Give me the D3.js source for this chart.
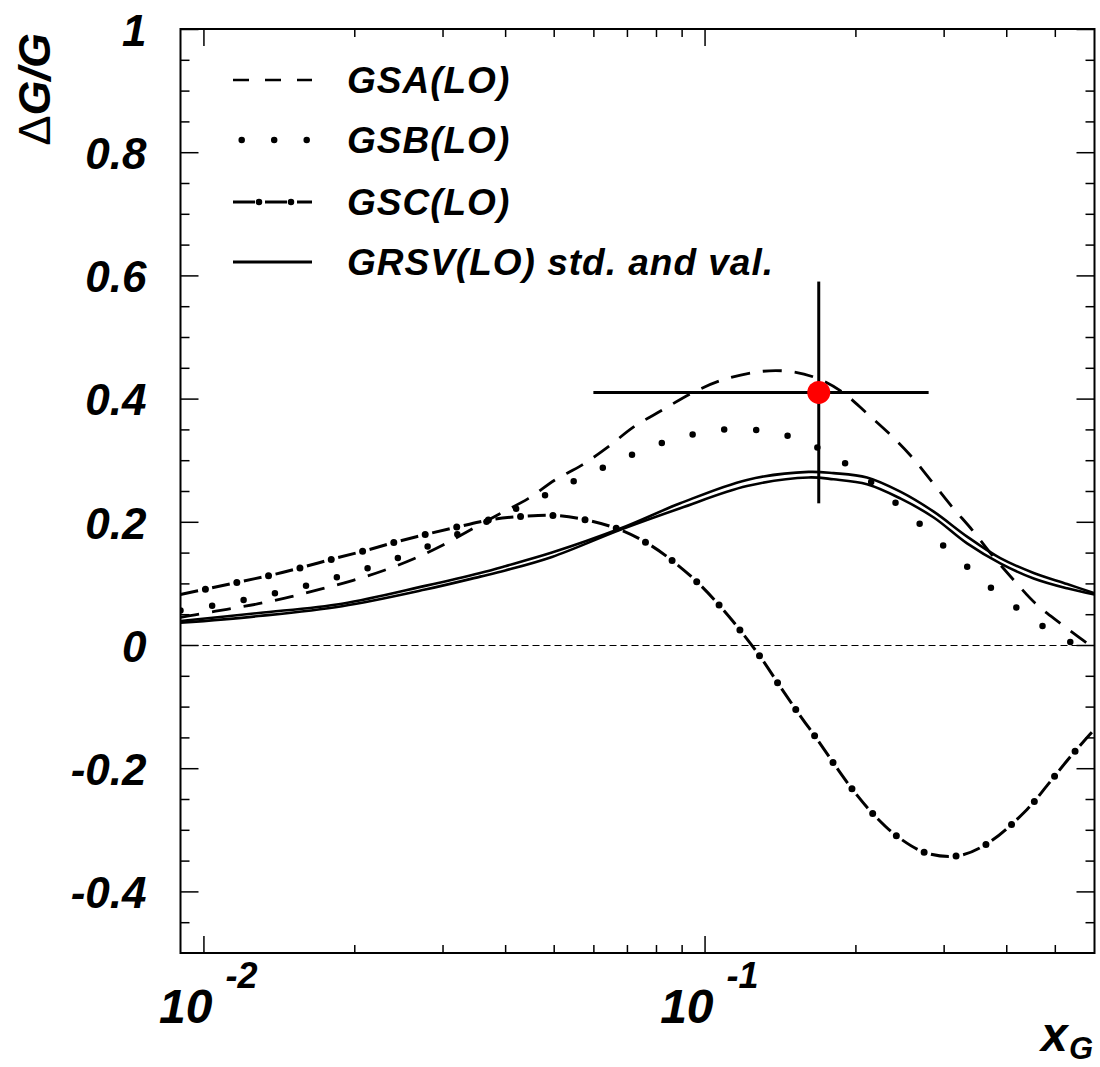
<!DOCTYPE html>
<html><head><meta charset="utf-8">
<script src="https://cdn.jsdelivr.net/npm/d3@7"></script>
<style>
body{margin:0;background:#fff;}
svg{display:block;}
text{font-family:"Liberation Sans",Arial,Helvetica,sans-serif;font-weight:bold;font-style:italic;fill:#000;}
</style></head><body>
<svg id="chart" width="1100" height="1067"></svg>
<script>
// ---------------- data ----------------
const seriesNames = ["GSA(LO)", "GSB(LO)", "GSC(LO)", "GRSV(LO) std. and val."];

const gsaX = [0.009,0.00962,0.01114,0.01288,0.01489,0.0172,0.0199,0.0229,0.0263,0.0300,0.0345,0.0388,0.04454,0.0503,0.0569,0.0643,0.0722,0.0822,0.0944,0.1083,0.1292,0.1483,0.1677,0.1881,0.2109,0.2330,0.2574,0.2844,0.3117,0.3418,0.3774,0.4139,0.4571,0.5129,0.5799,0.6];
const gsaY = [0.045,0.049,0.058,0.067,0.078,0.091,0.105,0.121,0.140,0.162,0.189,0.212,0.238,0.268,0.292,0.322,0.354,0.381,0.409,0.430,0.444,0.444,0.433,0.411,0.376,0.344,0.308,0.265,0.2245,0.187,0.143,0.1055,0.0677,0.0352,0.003,-0.005];

const gsbX = [0.009,0.00962,0.01114,0.01288,0.01489,0.01718,0.01984,0.02288,0.02634,0.03037,0.03513,0.04557,0.05193,0.05941,0.0682,0.07831,0.08997,0.1041,0.121,0.1398,0.1613,0.1838,0.2093,0.2348,0.2627,0.2932,0.3273,0.365,0.4192,0.4728,0.5386,0.6];
const gsbY = [0.056,0.0596,0.0677,0.0784,0.0893,0.1028,0.1174,0.1326,0.1515,0.1716,0.1932,0.234,0.257,0.279,0.301,0.322,0.337,0.348,0.350,0.344,0.327,0.303,0.272,0.238,0.204,0.168,0.134,0.099,0.0606,0.0308,0.0044,-0.015];

const gscX = [0.009,0.01028,0.01189,0.01375,0.01589,0.01838,0.0212,0.02443,0.02826,0.03268,0.03781,0.04386,0.05088,0.05888,0.06788,0.07766,0.08741,0.09772,0.1083,0.1191,0.1302,0.1416,0.154,0.1677,0.1824,0.1993,0.2185,0.2436,0.2779,0.3214,0.3672,0.4401,0.4837,0.5313,0.586,0.6];
const gscY = [0.082,0.092,0.103,0.114,0.127,0.141,0.154,0.168,0.181,0.193,0.204,0.209,0.210,0.202,0.187,0.163,0.133,0.0985,0.0596,0.019,-0.023,-0.0677,-0.111,-0.153,-0.196,-0.239,-0.277,-0.312,-0.338,-0.342,-0.322,-0.267,-0.227,-0.186,-0.146,-0.137];

const grsvX = [0.009,0.0129,0.0189,0.0277,0.03567,0.04002,0.0496,0.06788,0.08942,0.1215,0.1613,0.1809,0.2109,0.2458,0.2866,0.3341,0.3892,0.4537,0.529,0.6];
const grsvStdY = [0.039,0.052,0.067,0.096,0.117,0.128,0.150,0.189,0.230,0.268,0.281,0.279,0.272,0.249,0.2165,0.176,0.141,0.117,0.099,0.084];
const grsvValY = [0.036,0.047,0.063,0.090,0.111,0.121,0.143,0.187,0.222,0.258,0.272,0.269,0.261,0.238,0.207,0.165,0.1326,0.108,0.092,0.082];

// measured point with error bars
const pointX = [0.169];
const pointY = [0.41];
const pointXLo = [0.06];
const pointXHi = [0.28];
const pointYLo = [0.23];
const pointYHi = [0.59];

// axes
const yMajorTicks = [-0.4,-0.2,0,0.2,0.4,0.6,0.8,1];
const yTickLabels = ["-0.4","-0.2","0","0.2","0.4","0.6","0.8","1"];
const xMajorTicks = [0.01,0.1];
const xTickBase = ["10","10"];
const xTickExp = ["-2","-1"];
const xMinorTicks = [0.02,0.03,0.04,0.05,0.06,0.07,0.08,0.09,0.2,0.3,0.4,0.5];

// ---------------- layout ----------------
const L = 180.5, R = 1094.5, T = 29, B = 953;
const svg = d3.select("#chart");
const x = d3.scaleLog().domain([0.009, 0.6]).range([L, R]);
const y = d3.scaleLinear().domain([-0.5, 1]).range([B, T]);
const yMinorTicks = d3.range(-0.45, 1.0001, 0.05).map(v => +v.toFixed(2)).filter(v => !yMajorTicks.some(m => Math.abs(m - v) < 1e-6));

svg.append("defs").append("clipPath").attr("id", "clip")
  .append("rect").attr("x", L).attr("y", T).attr("width", R - L).attr("height", B - T);

function styleAxis(g){ g.select(".domain").remove(); g.selectAll("line").attr("stroke","#000").attr("stroke-width",1.5); }
svg.append("g").attr("transform",`translate(${L},0)`)
  .call(d3.axisLeft(y).tickValues(yMinorTicks).tickSize(-9).tickFormat("")).call(styleAxis);
svg.append("g").attr("transform",`translate(${R},0)`)
  .call(d3.axisRight(y).tickValues(yMinorTicks).tickSize(-9).tickFormat("")).call(styleAxis);
svg.append("g").attr("transform",`translate(${R},0)`)
  .call(d3.axisRight(y).tickValues(yMajorTicks).tickSize(-18).tickFormat("")).call(styleAxis);
const yAx = svg.append("g").attr("transform",`translate(${L},0)`)
  .call(d3.axisLeft(y).tickValues(yMajorTicks).tickSize(-18).tickPadding(34)
    .tickFormat((d,i) => yTickLabels[i])).call(styleAxis);
yAx.selectAll("text").attr("font-size", 44).attr("dy", "0.37em")
  .attr("font-family",'"Liberation Sans",Arial,sans-serif')
  .style("font-weight","bold").style("font-style","italic");

svg.append("g").attr("transform",`translate(0,${B})`)
  .call(d3.axisBottom(x).tickValues(xMinorTicks).tickSize(-8).tickFormat("")).call(styleAxis);
svg.append("g").attr("transform",`translate(0,${B})`)
  .call(d3.axisBottom(x).tickValues(xMajorTicks).tickSize(-17).tickFormat("")).call(styleAxis);
svg.append("g").attr("transform",`translate(0,${T})`)
  .call(d3.axisTop(x).tickValues(xMinorTicks).tickSize(-8).tickFormat("")).call(styleAxis);
svg.append("g").attr("transform",`translate(0,${T})`)
  .call(d3.axisTop(x).tickValues(xMajorTicks).tickSize(-17).tickFormat("")).call(styleAxis);

// x tick labels (10^n)
xMajorTicks.forEach((v,i) => {
  const px = x(v);
  svg.append("text").attr("x", px + 9).attr("y", 1023).attr("text-anchor","end")
    .attr("font-size", 48).text(xTickBase[i]);
  svg.append("text").attr("x", px + 22).attr("y", 988).attr("text-anchor","start")
    .attr("font-size", 36).text(xTickExp[i]);
});

// axis titles
svg.append("text").attr("x", 1041).attr("y", 1051).attr("font-size", 48).text("x");
svg.append("text").attr("x", 1069).attr("y", 1059).attr("font-size", 31).text("G");
const yt = svg.append("text").attr("transform","translate(50,33) rotate(-90)")
  .attr("text-anchor","end").attr("font-size", 45);
yt.append("tspan").style("font-weight","normal").style("font-style","normal").text("\u0394");
yt.append("tspan").text("G/G");

// plot contents
const plot = svg.append("g").attr("clip-path","url(#clip)");
const line = d3.line().x(d => x(d[0])).y(d => y(d[1])).curve(d3.curveCatmullRom.alpha(0.5));
const zip = (xs, ys) => xs.map((v,i) => [v, ys[i]]);

// zero line
plot.append("line").attr("x1", L).attr("x2", R).attr("y1", y(0) + 0.5).attr("y2", y(0) + 0.5)
  .attr("stroke","#000").attr("stroke-width",1.2).attr("stroke-dasharray","7,4");

// GRSV std and val
[grsvStdY, grsvValY].forEach(ys => {
  plot.append("path").attr("d", line(zip(grsvX, ys))).attr("fill","none")
    .attr("stroke","#000").attr("stroke-width",2.6);
});
// GSA dashed
plot.append("path").attr("d", line(zip(gsaX, gsaY))).attr("fill","none")
  .attr("stroke","#000").attr("stroke-width",2.8).attr("stroke-dasharray","19,13");
// GSB dotted
plot.append("path").attr("d", line(zip(gsbX, gsbY))).attr("fill","none")
  .attr("stroke","#000").attr("stroke-width",6.5).attr("stroke-linecap","round")
  .attr("stroke-dasharray","0,32");
// GSC dash-dot
const gscD = line(zip(gscX, gscY));
plot.append("path").attr("d", gscD).attr("fill","none")
  .attr("stroke","#000").attr("stroke-width",3).attr("stroke-dasharray","18,14.4");
plot.append("path").attr("d", gscD).attr("fill","none")
  .attr("stroke","#000").attr("stroke-width",7).attr("stroke-linecap","round")
  .attr("stroke-dasharray","0,32.4").attr("stroke-dashoffset", 7.2);

// error bars + point
plot.selectAll(".ex").data(pointX).enter().append("line")
  .attr("x1",(d,i)=>x(pointXLo[i])).attr("x2",(d,i)=>x(pointXHi[i]))
  .attr("y1",(d,i)=>y(pointY[i])).attr("y2",(d,i)=>y(pointY[i]))
  .attr("stroke","#000").attr("stroke-width",3);
plot.selectAll(".ey").data(pointX).enter().append("line")
  .attr("x1",d=>x(d)).attr("x2",d=>x(d))
  .attr("y1",(d,i)=>y(pointYLo[i])).attr("y2",(d,i)=>y(pointYHi[i]))
  .attr("stroke","#000").attr("stroke-width",3);
plot.selectAll(".pt").data(pointX).enter().append("circle")
  .attr("cx",d=>x(d)).attr("cy",(d,i)=>y(pointY[i])).attr("r",11.5).attr("fill","#ff0000");

// frame
svg.append("rect").attr("x", L).attr("y", T).attr("width", R - L).attr("height", B - T)
  .attr("fill","none").attr("stroke","#000").attr("stroke-width",2);

// legend
const legRowY = [80, 140, 202, 262];
const lx1 = 233, lx2 = 312;
const leg = svg.append("g");
leg.append("line").attr("x1",lx1).attr("x2",lx2).attr("y1",legRowY[0]).attr("y2",legRowY[0])
  .attr("stroke","#000").attr("stroke-width",2.6).attr("stroke-dasharray","16,16");
leg.append("line").attr("x1",241.7).attr("x2",308).attr("y1",legRowY[1]).attr("y2",legRowY[1])
  .attr("stroke","#000").attr("stroke-width",6.5).attr("stroke-linecap","round").attr("stroke-dasharray","0,32.5");
leg.append("line").attr("x1",lx1).attr("x2",lx2).attr("y1",legRowY[2]).attr("y2",legRowY[2])
  .attr("stroke","#000").attr("stroke-width",2.8).attr("stroke-dasharray","22,10");
leg.append("line").attr("x1",lx1).attr("x2",lx2).attr("y1",legRowY[2]).attr("y2",legRowY[2])
  .attr("stroke","#000").attr("stroke-width",6.5).attr("stroke-linecap","round")
  .attr("stroke-dasharray","0,32").attr("stroke-dashoffset",6);
leg.append("line").attr("x1",lx1).attr("x2",lx2).attr("y1",legRowY[3]).attr("y2",legRowY[3])
  .attr("stroke","#000").attr("stroke-width",2.8);
leg.selectAll(".lt").data(seriesNames).enter().append("text")
  .attr("x", 347).attr("y", (d,i) => legRowY[i] + 13).attr("font-size", 37)
  .attr("letter-spacing", 1).text(d => d);
</script>
</body></html>
